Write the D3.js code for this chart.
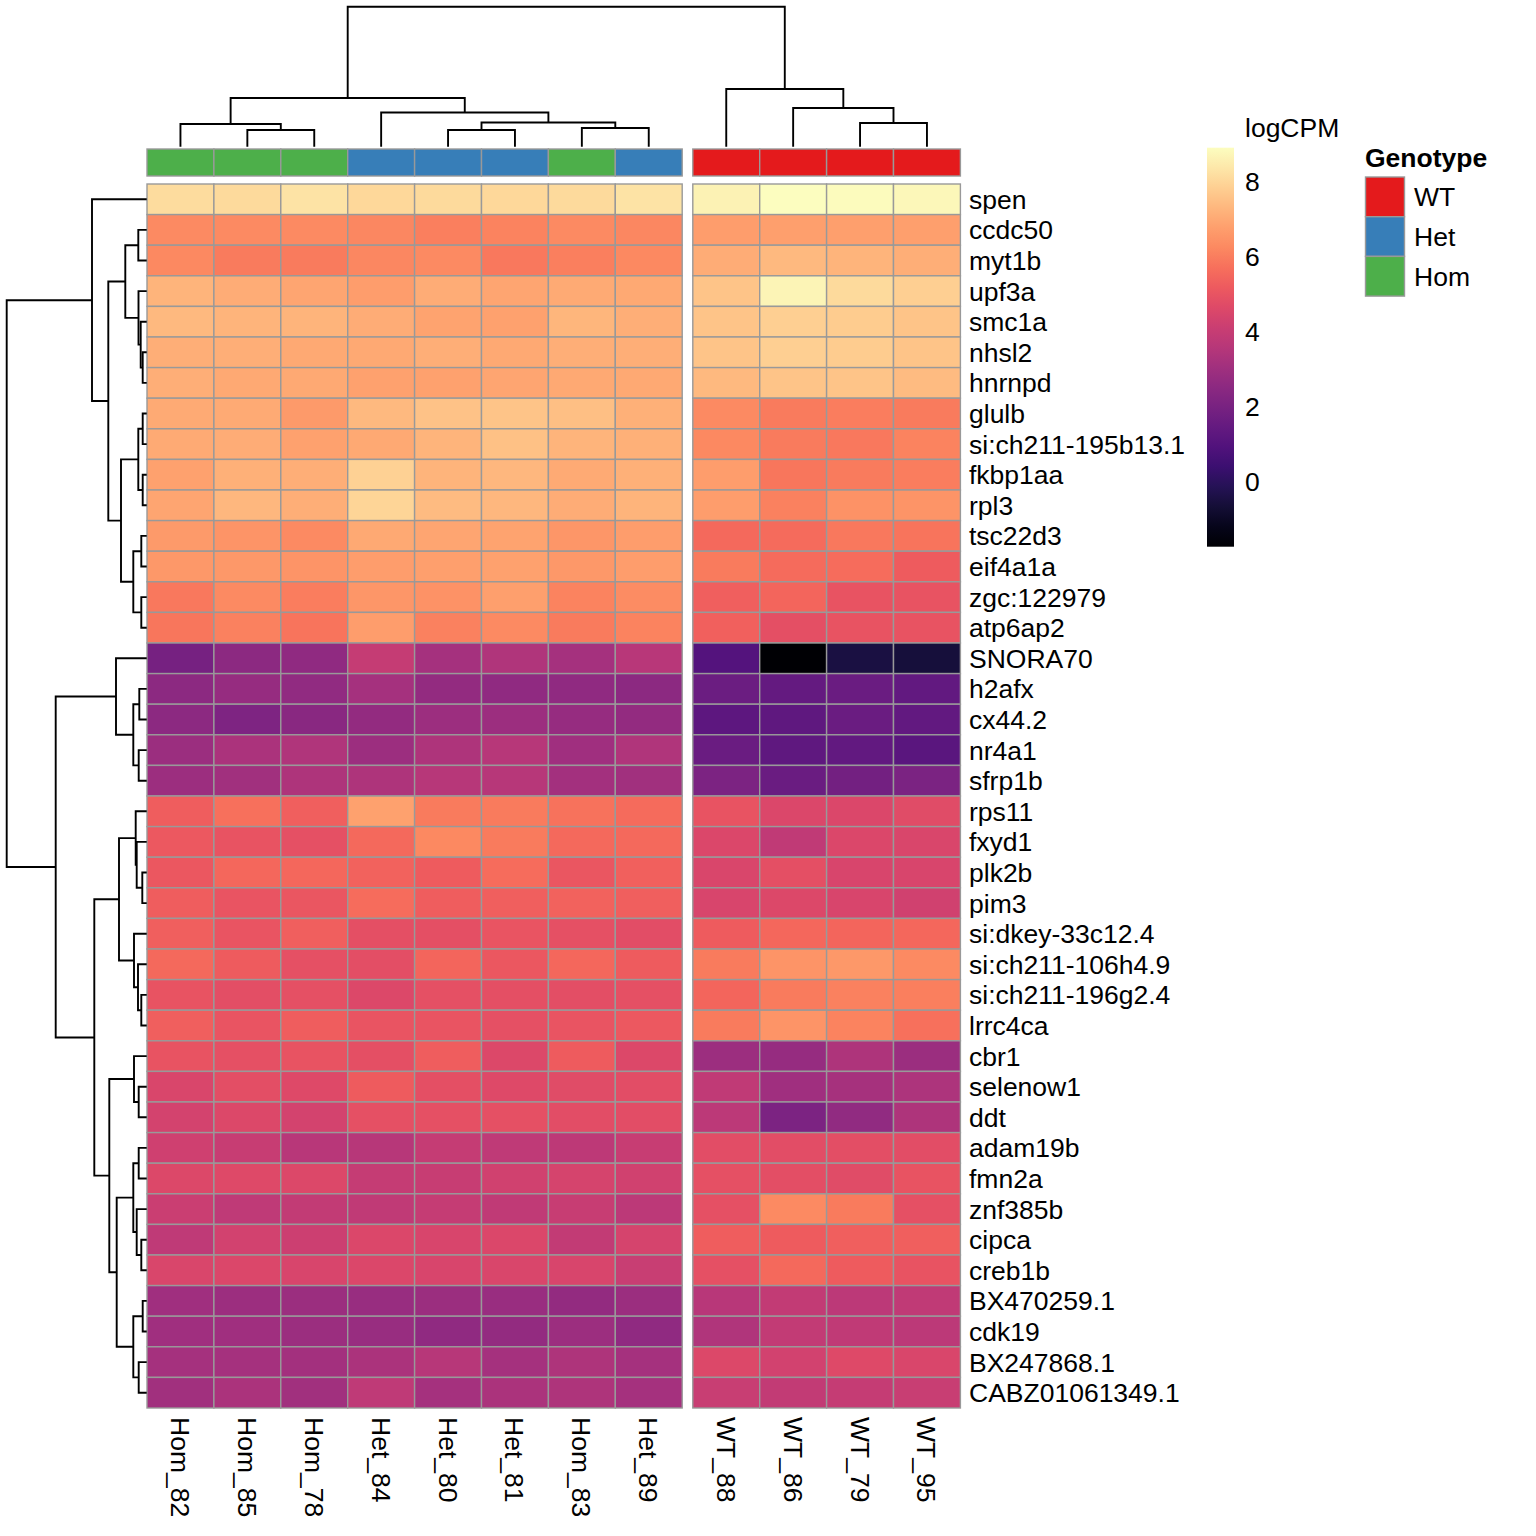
<!DOCTYPE html>
<html><head><meta charset="utf-8">
<script src="https://cdn.jsdelivr.net/npm/d3@7"></script>
<style>body{margin:0;background:#fff} text{font-family:"Liberation Sans",Arial,Helvetica,sans-serif;fill:#000}</style>
</head><body><svg id="c" width="1536" height="1536" xmlns="http://www.w3.org/2000/svg"></svg>
<script>
// ---------------- data ----------------
const genes = ["spen","ccdc50","myt1b","upf3a","smc1a","nhsl2","hnrnpd","glulb","si:ch211-195b13.1","fkbp1aa","rpl3","tsc22d3","eif4a1a","zgc:122979","atp6ap2","SNORA70","h2afx","cx44.2","nr4a1","sfrp1b","rps11","fxyd1","plk2b","pim3","si:dkey-33c12.4","si:ch211-106h4.9","si:ch211-196g2.4","lrrc4ca","cbr1","selenow1","ddt","adam19b","fmn2a","znf385b","cipca","creb1b","BX470259.1","cdk19","BX247868.1","CABZ01061349.1"];
const samples = ["Hom_82","Hom_85","Hom_78","Het_84","Het_80","Het_81","Hom_83","Het_89","WT_88","WT_86","WT_79","WT_95"];
const genotype = ["Hom","Hom","Hom","Het","Het","Het","Hom","Het","WT","WT","WT","WT"];
const genotypeLevels = ["WT","Het","Hom"];
const genotypeColors = ["#E41A1C","#377EB8","#4DAF4A"];
const legendTicks = [0,2,4,6,8];
const legendRange = [-1.75, 8.9];

// logCPM per sample (rows in gene order)
const Hom_82 = [8.12,6.3,6.25,7.2,7.35,7.1,7.1,7.0,7.0,6.8,6.9,6.65,6.6,5.9,5.85,1.92,2.5,2.5,2.9,2.95,5.25,5.15,5.1,5.25,5.3,5.55,4.95,5.3,4.95,4.5,4.35,4.2,4.6,4.1,3.8,4.5,3.0,3.0,3.15,3.05];
const Hom_85 = [8.08,6.3,5.95,7.05,7.2,7.1,6.95,7.0,7.05,7.15,7.3,6.5,6.6,6.3,6.1,2.5,2.75,2.15,3.3,3.05,5.7,4.95,5.5,5.0,5.0,5.2,4.8,5.0,4.9,4.8,4.6,4.0,4.65,3.8,4.3,4.55,2.95,3.0,3.15,3.3];
const Hom_78 = [8.3,6.3,5.95,6.9,7.2,6.95,6.95,6.65,6.8,7.1,7.1,6.3,6.5,6.0,5.8,2.6,2.65,2.45,3.45,3.4,5.3,4.9,5.5,5.05,5.3,4.9,4.9,5.25,4.95,4.65,4.35,3.65,4.6,3.9,4.15,4.45,2.9,2.9,3.1,3.05];
const Het_84 = [8.05,6.2,6.2,6.7,7.05,6.95,6.8,7.35,6.95,7.9,7.95,6.95,6.7,6.55,6.7,3.95,3.15,2.7,2.95,3.4,6.8,5.55,5.4,5.65,4.85,4.8,4.6,5.0,4.85,5.2,4.9,3.6,3.95,3.85,4.55,4.55,2.8,2.8,3.3,3.8];
const Het_80 = [8.1,6.05,6.3,7.05,6.85,7.1,6.8,7.55,7.2,7.2,7.4,6.9,6.75,6.45,6.1,3.15,2.7,2.95,3.4,3.6,5.95,6.25,5.2,5.25,4.85,5.45,4.9,5.0,5.25,4.85,4.9,3.95,4.0,3.95,4.45,4.45,2.9,2.6,3.6,3.15];
const Het_81 = [8.05,6.15,5.9,6.9,6.8,6.95,6.9,7.6,7.5,7.3,7.3,6.85,6.8,6.75,6.3,3.45,2.6,2.95,3.6,3.6,5.95,5.95,5.65,5.3,5.0,5.1,4.85,4.9,4.6,4.65,4.9,3.8,4.25,3.85,4.55,4.5,2.85,2.7,3.15,3.3];
const Hom_83 = [8.08,6.3,6.05,7.0,7.25,7.1,6.95,7.45,7.2,7.0,7.05,6.55,6.6,6.15,5.95,3.15,2.6,2.75,3.0,3.1,5.75,5.55,5.05,5.4,4.9,5.5,4.8,5.0,5.2,4.7,4.75,3.75,4.4,4.0,3.9,4.45,2.7,2.95,3.4,3.4];
const Het_89 = [8.28,6.2,6.25,6.95,7.1,7.1,6.95,7.15,7.15,7.15,7.2,6.7,6.7,6.35,6.15,3.65,2.5,2.7,3.45,3.05,5.6,5.55,5.35,5.3,4.75,5.2,4.9,5.15,4.6,4.75,4.75,4.0,4.25,3.7,4.4,4.05,2.9,2.6,3.15,3.15];
const WT_88 = [8.65,6.7,7.05,7.6,7.6,7.6,7.35,6.3,6.25,6.7,6.7,5.55,5.95,5.3,5.35,1.0,1.65,1.25,1.6,2.1,4.95,4.55,4.5,4.45,5.2,5.95,5.45,5.95,2.95,3.85,3.7,4.75,4.9,4.9,5.25,4.9,3.65,3.45,4.6,4.05];
const WT_86 = [8.9,6.75,7.35,8.68,7.85,7.85,7.6,5.95,5.95,5.85,6.1,5.6,5.6,5.45,4.85,-1.75,1.45,1.3,1.3,1.6,4.55,3.85,4.85,4.6,5.5,6.5,5.95,6.5,2.75,3.0,2.1,4.75,4.8,6.3,5.2,5.55,3.9,3.9,4.3,3.9];
const WT_79 = [8.85,6.75,7.2,8.1,7.75,7.75,7.6,6.0,5.9,5.95,6.45,5.9,5.65,4.95,4.95,-0.5,1.6,1.6,1.4,1.85,4.55,4.55,4.45,4.45,5.45,6.6,6.1,6.15,3.4,3.2,2.65,4.8,4.7,5.95,5.3,5.2,3.7,3.85,4.65,3.95];
const WT_95 = [8.75,6.75,7.1,7.85,7.6,7.6,7.4,5.95,6.15,6.0,6.5,5.8,5.2,4.95,4.95,-0.6,1.4,1.4,1.2,2.05,4.7,4.5,4.45,4.25,5.5,6.3,6.05,5.7,2.9,3.35,3.4,4.75,4.95,4.9,5.3,4.95,3.85,3.7,4.5,4.05];

// dendrograms, hclust style: negative = leaf (1-based, display order), positive = earlier merge (1-based)
const colMerge = [[-2,-3],[-1,1],[-5,-6],[-7,-8],[3,4],[-4,5],[2,6],[-11,-12],[-10,8],[-9,9],[7,10]];
const colHeight = [16.7,22.7,16.7,18.7,24.2,34.2,48.7,23.7,38.7,57.7,140];
const rowMerge = [[-2,-3],[-6,-7],[-5,2],[-4,3],[1,4],[-8,-9],[-10,-11],[6,7],[-12,-13],[-14,-15],[9,10],[8,11],[5,12],[-1,13],
  [-17,-18],[-19,-20],[15,16],[-16,17],[-23,-24],[-22,19],[-21,20],[-27,-28],[-26,22],[-25,23],[21,24],
  [-30,-31],[-29,26],[-32,-33],[-35,-36],[-34,29],[28,30],[-37,-38],[-39,-40],[32,33],[31,34],[27,35],[25,36],[18,37],[14,38]];
const rowHeight = [8.4,4.0,6.0,8.2,21.4,4.0,4.0,8.4,5.4,5.4,13.4,25.7,38.4,54.7,
  7.4,8.0,13.4,30.7,4.4,10.0,11.0,5.4,8.7,12.7,27.7,
  8.0,12.7,8.0,5.4,10.0,13.4,4.0,8.0,13.4,30.0,37.4,52.4,91.0,140];
const gapsCol = [8];

// ---------------- drawing ----------------
const series = [Hom_82,Hom_85,Hom_78,Het_84,Het_80,Het_81,Hom_83,Het_89,WT_88,WT_86,WT_79,WT_95];
const cells = [];
series.forEach((s,j)=>s.forEach((v,i)=>cells.push({gene:genes[i],sample:samples[j],j,v})));

const svg = d3.select("#c");
const FS = 26.5;
const cellW = 66.9, gapW = 10.6;
const x0 = 147, y0 = 184, y1 = 1408;
const xBand = d3.scaleBand().domain(samples).range([x0, x0 + cellW*samples.length]);
const colX = s => xBand(s) + gapsCol.filter(g => samples.indexOf(s) >= g).length*gapW;
const yBand = d3.scaleBand().domain(genes).range([y0, y1]);
const color = d3.scaleSequential(d3.interpolateMagma).domain(legendRange);

// heatmap
svg.append("g").selectAll("rect").data(cells).join("rect")
  .attr("x", d=>colX(d.sample)).attr("y", d=>yBand(d.gene))
  .attr("width", xBand.bandwidth()).attr("height", yBand.bandwidth())
  .attr("fill", d=>color(d.v)).attr("stroke","#999999").attr("stroke-width",1.4);

// annotation row
svg.append("g").selectAll("rect").data(samples).join("rect")
  .attr("x", s=>colX(s)).attr("y", 149).attr("width", xBand.bandwidth()).attr("height", 27)
  .attr("fill", (s,i)=>genotypeColors[genotypeLevels.indexOf(genotype[i])])
  .attr("stroke","#999999").attr("stroke-width",1.4);

// dendrogram builder
function treePaths(merge, heights, leafPos){
  const pos = [], hh = [];
  const get = c => c < 0 ? [leafPos(-c-1), 0] : [pos[c-1], hh[c-1]];
  const segs = [];
  merge.forEach((m,k)=>{
    const a = get(m[0]), b = get(m[1]), h = heights[k];
    pos[k] = (a[0]+b[0])/2; hh[k] = h;
    segs.push({pa:a[0], ha:a[1], pb:b[0], hb:b[1], h});
  });
  return segs;
}
const colH = d3.scaleLinear().domain([0,140]).range([146.7, 6.7]);
const colSegs = treePaths(colMerge, colHeight, i => colX(samples[i]) + xBand.bandwidth()/2);
svg.append("g").selectAll("path").data(colSegs).join("path")
  .attr("d", d=>`M${d.pa},${colH(d.ha)}V${colH(d.h)}H${d.pb}V${colH(d.hb)}`)
  .attr("fill","none").attr("stroke","#000").attr("stroke-width",1.9);

const rowH = d3.scaleLinear().domain([0,140]).range([146.7, 6.7]);
const rowSegs = treePaths(rowMerge, rowHeight, i => yBand(genes[i]) + yBand.bandwidth()/2);
svg.append("g").selectAll("path").data(rowSegs).join("path")
  .attr("d", d=>`M${rowH(d.ha)},${d.pa}H${rowH(d.h)}V${d.pb}H${rowH(d.hb)}`)
  .attr("fill","none").attr("stroke","#000").attr("stroke-width",1.9);

// row labels
svg.append("g").selectAll("text").data(genes).join("text")
  .attr("x", 969).attr("y", g=>yBand(g)+yBand.bandwidth()/2).attr("dy","0.36em")
  .attr("font-size",FS).text(g=>g);

// column labels
svg.append("g").selectAll("text").data(samples).join("text")
  .attr("transform", s=>`translate(${colX(s)+xBand.bandwidth()/2},1417) rotate(90)`)
  .attr("dy","0.36em").attr("font-size",FS).text(s=>s);

// color legend
const defs = svg.append("defs");
const grad = defs.append("linearGradient").attr("id","lg").attr("x1",0).attr("y1",1).attr("x2",0).attr("y2",0);
d3.range(0,1.0001,0.05).forEach(t=>grad.append("stop").attr("offset",t).attr("stop-color",d3.interpolateMagma(t)));
const ly = d3.scaleLinear().domain(legendRange).range([546.7,147.7]);
svg.append("rect").attr("x",1207).attr("y",147.7).attr("width",27).attr("height",399).attr("fill","url(#lg)");
svg.append("g").selectAll("text").data(legendTicks).join("text")
  .attr("x",1245).attr("y",d=>ly(d)).attr("dy","0.36em").attr("font-size",FS).text(d=>d);
svg.append("text").attr("x",1245).attr("y",136.5).attr("font-size",FS).text("logCPM");

// annotation legend
svg.append("text").attr("x",1365).attr("y",166.5).attr("font-size",FS).attr("font-weight","bold").text("Genotype");
const lg = svg.append("g").selectAll("g").data(genotypeLevels).join("g");
lg.append("rect").attr("x",1365.5).attr("y",(d,i)=>177+i*39.7).attr("width",39).attr("height",39.7)
  .attr("fill",(d,i)=>genotypeColors[i]).attr("stroke","#999999").attr("stroke-width",1.4);
lg.append("text").attr("x",1414).attr("y",(d,i)=>177+i*39.7+19.85).attr("dy","0.36em").attr("font-size",FS).text(d=>d);
</script></body></html>
